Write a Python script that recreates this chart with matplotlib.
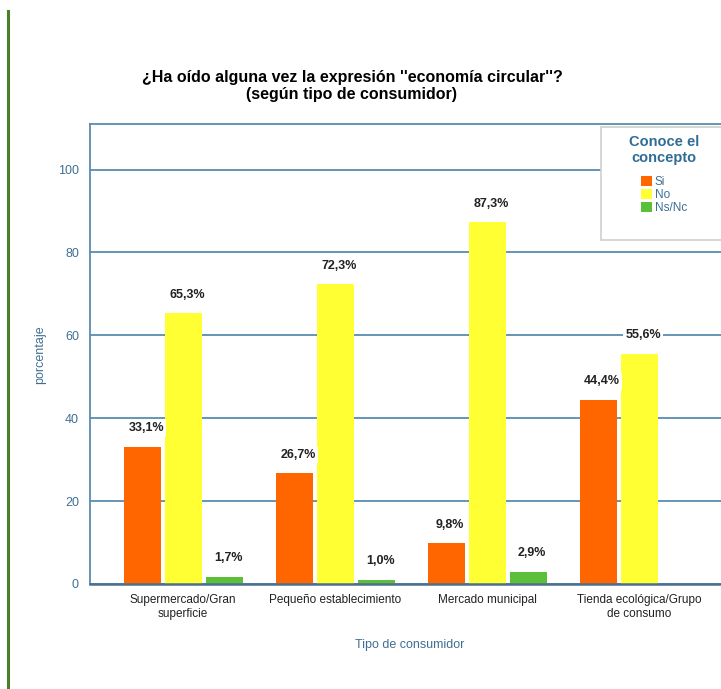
import matplotlib.pyplot as plt
import numpy as np

categorias = ["Supermercado/Gran\nsuperficie", "Pequeño establecimiento",
              "Mercado municipal", "Tienda ecológica/Grupo\nde consumo"]
serie_si = [33.1, 26.7, 9.8, 44.4]
serie_no = [65.3, 72.3, 87.3, 55.6]
serie_nsnc = [1.7, 1.0, 2.9, 0.0]
series = [("Si", serie_si, "#ff6600"), ("No", serie_no, "#ffff33"),
          ("Ns/Nc", serie_nsnc, "#5cbf3a")]
yticks = [0, 20, 40, 60, 80, 100]

W, H = 721, 689
fig = plt.figure(figsize=(W / 100, H / 100), dpi=100)
plt.rcParams['font.family'] = ['Liberation Sans', 'DejaVu Sans']

# axes runs past the right edge like the cropped original
ax = fig.add_axes([90 / W, (H - 584) / H, (731 - 90) / W, 460 / H])
blue = "#5a8bb0"
txtblue = "#3f6f94"

x = np.arange(len(categorias))
bw = 37 / 152
step = 41 / 152
for i, (nm, vals, col) in enumerate(series):
    pos = x + (i - 1) * step
    bars = ax.bar(pos, vals, bw, color=col, label=nm, zorder=2)
    for p, v in zip(pos, vals):
        if v <= 0:
            continue
        ax.annotate("{:.1f}%".format(v).replace(".", ","), (p, v),
                    xytext=(3, 9), textcoords="offset points", ha="center", va="bottom",
                    fontsize=9, fontweight="bold", color="#222222", zorder=4,
                    bbox=dict(facecolor="white", edgecolor="none", pad=1.5))

ax.set_xlim(-0.612, 3.605)
ax.set_ylim(0, 111)
ax.set_yticks(yticks)
ax.yaxis.grid(True, color=blue, lw=1.3, zorder=0)
ax.set_axisbelow(True)
ax.set_xticks(x)
ax.set_xticklabels(categorias, fontsize=8.5, color="#222222")
ax.tick_params(axis="x", length=0, pad=7)
ax.tick_params(axis="y", length=0, pad=8, labelsize=9, labelcolor=txtblue)
for s in ax.spines.values():
    s.set_color(blue)
    s.set_linewidth(1.3)
ax.spines["bottom"].set_color("#4b6f8f")
ax.spines["bottom"].set_linewidth(1.8)

fig.text(40 / W, 1 - 355 / H, "porcentaje", rotation=90, ha="center", va="center",
         fontsize=9, color=txtblue)
fig.text(410 / W, 1 - 645 / H, "Tipo de consumidor", ha="center", va="center",
         fontsize=9, color=txtblue)
fig.text(352 / W, 1 - 86 / H,
         "¿Ha oído alguna vez la expresión ''economía circular''?\n(según tipo de consumidor)",
         ha="center", va="center", fontsize=11.5, fontweight="bold", linespacing=1.15)

# legend box, cut by the right edge
box = plt.Rectangle((601 / W, 1 - 240 / H), 140 / W, 113 / H,
                    transform=fig.transFigure, facecolor="white",
                    edgecolor="#cfcfcf", lw=1.2, zorder=5, clip_on=False)
ax.add_artist(box)
leg = ax.legend(loc="upper center", bbox_to_anchor=(664 / W, 1 - 131 / H),
                bbox_transform=fig.transFigure, title="Conoce el\nconcepto",
                fontsize=8.5, handlelength=0.9, handleheight=0.9, handletextpad=0.25,
                labelspacing=0.1, borderpad=0.3, frameon=False, labelcolor=txtblue,
                title_fontproperties={"weight": "bold", "size": 10.5}, borderaxespad=0)
leg.set_zorder(7)
leg.get_title().set_color("#2f6d96")
leg.get_title().set_multialignment("center")
leg._legend_box.align = "center"
leg._legend_box.sep = 8

# green rule on the left edge
fig.add_artist(plt.Line2D([7.5 / W, 7.5 / W], [0, 1 - 11 / H], color="#4a7f2a", lw=2.2))

fig.savefig("out.png", dpi=100)
